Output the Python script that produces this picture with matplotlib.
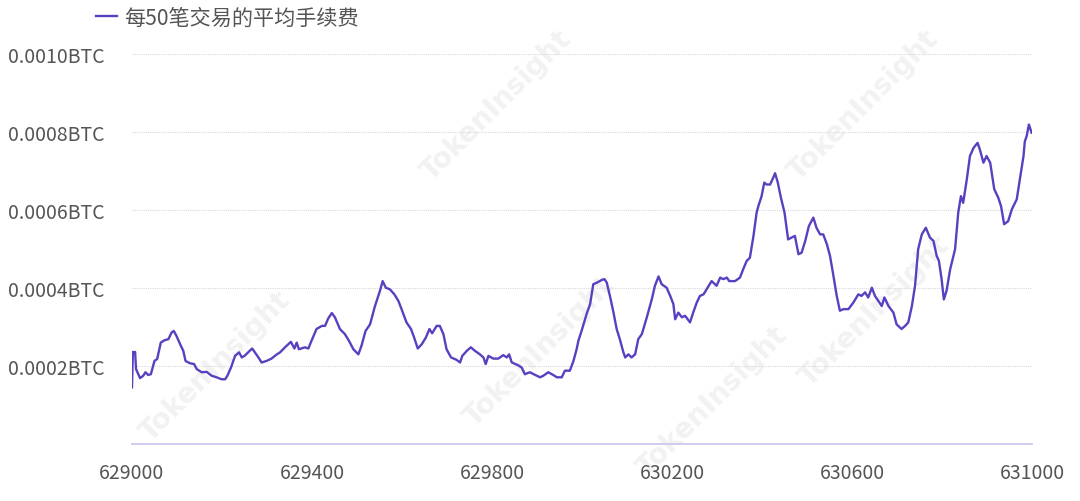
import matplotlib
matplotlib.use("Agg")
import matplotlib.pyplot as plt
from matplotlib.ticker import FixedLocator, FuncFormatter

plt.rcParams['font.family'] = ['Noto Sans CJK SC', 'DejaVu Sans']

# block height vs average fee per 50 transactions (BTC)
blocks = [
    629000, 629002, 629007, 629009, 629018, 629025, 629030, 629036, 629042, 629050,
    629056, 629064, 629072, 629081, 629088, 629093, 629099, 629107, 629114, 629119,
    629129, 629138, 629144, 629155, 629166, 629177, 629188, 629199, 629207, 629212,
    629220, 629229, 629238, 629244, 629250, 629258, 629267, 629273, 629281, 629288,
    629299, 629310, 629322, 629329, 629340, 629353, 629361, 629366, 629371, 629384,
    629392, 629399, 629410, 629422, 629429, 629436, 629444, 629451, 629462, 629473,
    629482, 629492, 629503, 629510, 629519, 629529, 629540, 629551, 629557, 629564,
    629573, 629583, 629592, 629599, 629610, 629620, 629627, 629635, 629644, 629653,
    629661, 629667, 629677, 629684, 629692, 629699, 629709, 629721, 629729, 629734,
    629744, 629753, 629762, 629773, 629781, 629786, 629792, 629803, 629814, 629825,
    629833, 629838, 629844, 629858, 629866, 629873, 629884, 629896, 629907, 629914,
    629925, 629936, 629944, 629955, 629962, 629973, 629981, 629988, 629992, 629999,
    630010, 630018, 630025, 630033, 630044, 630050, 630055, 630062, 630070, 630077,
    630084, 630092, 630096, 630103, 630110, 630118, 630125, 630133, 630144, 630155,
    630162, 630170, 630177, 630188, 630196, 630203, 630207, 630214, 630222, 630229,
    630240, 630247, 630255, 630262, 630270, 630279, 630288, 630299, 630307, 630314,
    630322, 630327, 630340, 630351, 630358, 630366, 630373, 630381, 630388, 630392,
    630399, 630405, 630410, 630418, 630425, 630429, 630435, 630442, 630450, 630458,
    630466, 630473, 630481, 630488, 630496, 630504, 630514, 630521, 630529, 630536,
    630544, 630551, 630558, 630566, 630573, 630581, 630592, 630603, 630614, 630621,
    630629, 630636, 630644, 630651, 630661, 630666, 630672, 630681, 630692, 630699,
    630710, 630718, 630725, 630733, 630740, 630747, 630755, 630764, 630773, 630781,
    630788, 630793, 630799, 630804, 630810, 630818, 630829, 630836, 630842, 630847,
    630855, 630862, 630870, 630879, 630884, 630892, 630899, 630907, 630916, 630925,
    630931, 630938, 630947, 630955, 630966, 630973, 630981, 630984, 630988, 630993,
    630999,
]
fees = [
    0.000144, 0.000235, 0.000235, 0.000191, 0.000168, 0.000174, 0.000183, 0.000176, 0.000178, 0.000212,
    0.000217, 0.000259, 0.000265, 0.000268, 0.000285, 0.000289, 0.000276, 0.000255, 0.000238, 0.000212,
    0.000206, 0.000204, 0.000191, 0.000183, 0.000184, 0.000174, 0.000170, 0.000165, 0.000165, 0.000174,
    0.000195, 0.000225, 0.000234, 0.000221, 0.000225, 0.000234, 0.000244, 0.000234, 0.000221, 0.000208,
    0.000212, 0.000218, 0.000229, 0.000234, 0.000247, 0.000261, 0.000244, 0.000259, 0.000242, 0.000247,
    0.000244, 0.000264, 0.000294, 0.000302, 0.000302, 0.000321, 0.000335, 0.000324, 0.000294, 0.000281,
    0.000264, 0.000242, 0.000229, 0.000251, 0.000289, 0.000306, 0.000353, 0.000392, 0.000417, 0.000400,
    0.000396, 0.000383, 0.000366, 0.000345, 0.000311, 0.000294, 0.000272, 0.000244, 0.000255, 0.000272,
    0.000294, 0.000283, 0.000302, 0.000302, 0.000281, 0.000242, 0.000221, 0.000215, 0.000208, 0.000225,
    0.000238, 0.000247, 0.000238, 0.000229, 0.000221, 0.000204, 0.000225, 0.000218, 0.000218, 0.000227,
    0.000221, 0.000229, 0.000208, 0.000201, 0.000195, 0.000178, 0.000183, 0.000176, 0.000170, 0.000174,
    0.000183, 0.000176, 0.000170, 0.000170, 0.000187, 0.000187, 0.000212, 0.000242, 0.000264, 0.000289,
    0.000332, 0.000358, 0.000409, 0.000413, 0.000420, 0.000422, 0.000413, 0.000379, 0.000336, 0.000294,
    0.000268, 0.000234, 0.000221, 0.000229, 0.000221, 0.000229, 0.000268, 0.000281, 0.000324, 0.000370,
    0.000405, 0.000429, 0.000409, 0.000400, 0.000379, 0.000358, 0.000319, 0.000336, 0.000324, 0.000328,
    0.000311, 0.000336, 0.000362, 0.000379, 0.000383, 0.000400, 0.000417, 0.000405, 0.000426, 0.000422,
    0.000426, 0.000417, 0.000417, 0.000426, 0.000447, 0.000469, 0.000477, 0.000533, 0.000593, 0.000610,
    0.000635, 0.000670, 0.000665, 0.000665, 0.000683, 0.000694, 0.000670, 0.000631, 0.000593, 0.000524,
    0.000529, 0.000533, 0.000486, 0.000490, 0.000520, 0.000558, 0.000580, 0.000554, 0.000537, 0.000537,
    0.000512, 0.000482, 0.000435, 0.000379, 0.000341, 0.000345, 0.000345, 0.000362, 0.000383, 0.000379,
    0.000388, 0.000375, 0.000400, 0.000379, 0.000362, 0.000353, 0.000375, 0.000353, 0.000336, 0.000306,
    0.000294, 0.000302, 0.000311, 0.000353, 0.000405, 0.000499, 0.000537, 0.000554, 0.000529, 0.000520,
    0.000482, 0.000469, 0.000422, 0.000370, 0.000392, 0.000447, 0.000499, 0.000593, 0.000635, 0.000618,
    0.000678, 0.000738, 0.000759, 0.000772, 0.000755, 0.000721, 0.000738, 0.000721, 0.000653, 0.000631,
    0.000610, 0.000563, 0.000571, 0.000601, 0.000627, 0.000678, 0.000738, 0.000776, 0.000789, 0.000819,
    0.000798,
]

x_ticks = [629000, 629400, 629800, 630200, 630600, 631000]
y_ticks = [0.0002, 0.0004, 0.0006, 0.0008, 0.0010]
series_name = '每50笔交易的平均手续费'

fig = plt.figure(figsize=(10.8, 5.02), dpi=100)
ax = fig.add_axes([0.1222, 0.1145, 0.8334, 0.7759])

# faint watermarks
for (wx, wy) in [(0.20, 0.27), (0.50, 0.30), (0.81, 0.38), (0.46, 0.79), (0.80, 0.79), (0.66, 0.20)]:
    ax.text(wx, wy, 'TokenInsight', transform=fig.transFigure, rotation=45,
            fontsize=20, fontweight='bold', color='#f2f2f2', ha='center', va='center',
            zorder=0, clip_on=False, family=['DejaVu Sans'])

ax.plot(blocks, fees, color='#5a3fc0', linewidth=1.7, label=series_name, zorder=3)

ax.set_xlim(629000, 631000)
ax.set_ylim(0, 0.0010)
ax.xaxis.set_major_locator(FixedLocator(x_ticks))
ax.yaxis.set_major_locator(FixedLocator(y_ticks))
ax.yaxis.set_major_formatter(FuncFormatter(lambda v, p: '%.4fBTC' % v))
ax.xaxis.set_major_formatter(FuncFormatter(lambda v, p: '%d' % v))

ax.grid(axis='y', color='#d9d9d9', linestyle=(0, (1, 1)), linewidth=0.8)
for s in ['top', 'right', 'left']:
    ax.spines[s].set_visible(False)
ax.spines['bottom'].set_color('#c9c4ee')
ax.spines['bottom'].set_linewidth(1.2)
ax.tick_params(axis='both', length=0, labelsize=14, labelcolor='#555555')
ax.tick_params(axis='y', pad=19.5)
ax.tick_params(axis='x', pad=13)

ax.legend(loc='upper left', bbox_to_anchor=(0.089, 0.985), bbox_transform=fig.transFigure,
          frameon=False, fontsize=15.2, handlelength=1.0, handletextpad=0.35,
          borderpad=0, borderaxespad=0, labelcolor='#555555')

fig.savefig('out.png', dpi=100)
